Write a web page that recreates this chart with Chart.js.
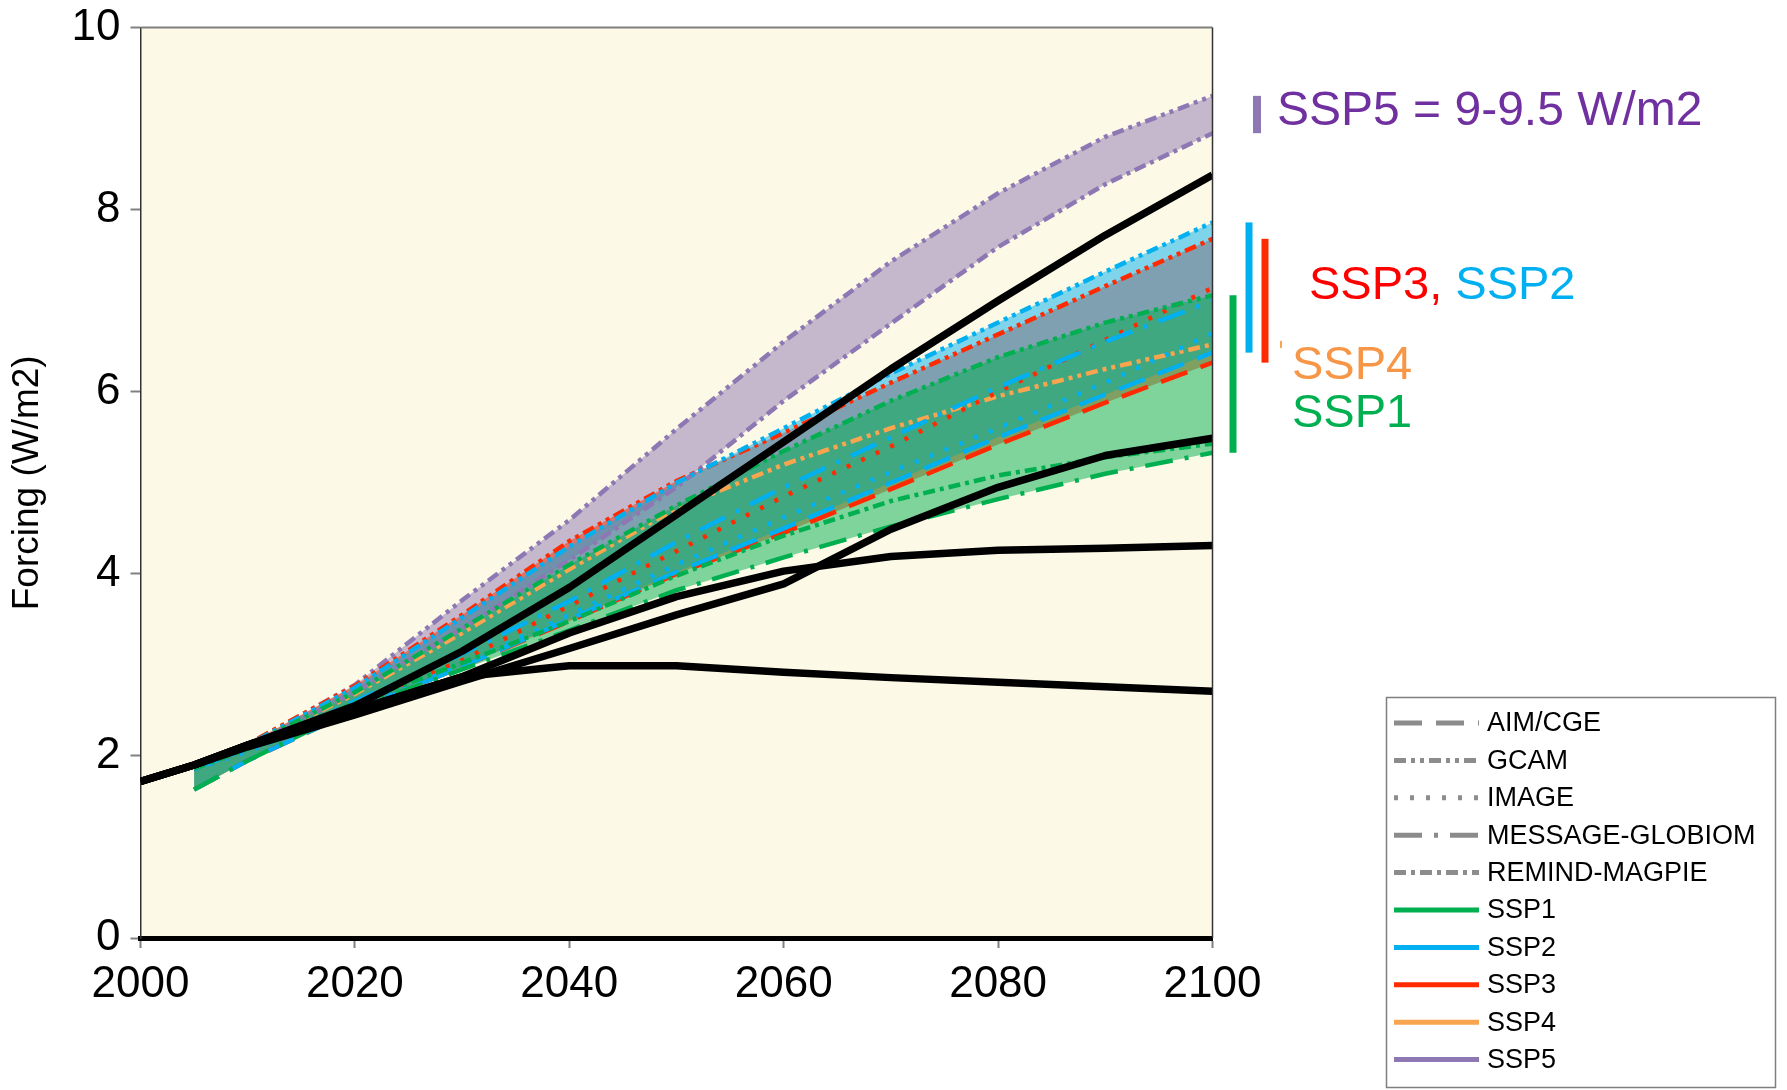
<!DOCTYPE html>
<html>
<head>
<meta charset="utf-8">
<script src="https://cdn.jsdelivr.net/npm/chart.js@4.4.1/dist/chart.umd.min.js"></script>
<style>
  html, body { margin: 0; padding: 0; background: #fff; }
  #wrap { width: 1787px; height: 1090px; position: relative; }
</style>
</head>
<body>
<div id="wrap"><canvas id="chart"></canvas></div>
<script>
// RCP pathways, drawn as thick black lines
const rcpYears = [2000, 2005, 2010, 2020, 2030, 2040, 2050, 2060, 2070, 2080, 2090, 2100];
const rcp85 = [1.72, 1.90, 2.12, 2.55, 3.15, 3.85, 4.65, 5.45, 6.25, 7.00, 7.72, 8.38];
const rcp60 = [1.72, 1.90, 2.10, 2.45, 2.82, 3.18, 3.55, 3.89, 4.49, 4.95, 5.30, 5.49];
const rcp45 = [1.72, 1.90, 2.12, 2.50, 2.87, 3.35, 3.75, 4.03, 4.19, 4.26, 4.28, 4.31];
const rcp26 = [1.72, 1.90, 2.12, 2.50, 2.87, 2.99, 2.99, 2.92, 2.86, 2.81, 2.76, 2.71];

// SSP baseline runs per model
const sspYears = [2005, 2010, 2020, 2030, 2040, 2050, 2060, 2070, 2080, 2090, 2100];
const ssp1_GCAM    = [1.87, 2.11, 2.70, 3.40, 4.10, 4.75, 5.35, 5.90, 6.38, 6.76, 7.06];
const ssp1_REMIND  = [1.86, 2.08, 2.58, 3.02, 3.48, 3.98, 4.42, 4.80, 5.08, 5.28, 5.43];
const ssp1_MESSAGE = [1.63, 1.95, 2.52, 2.95, 3.38, 3.82, 4.18, 4.52, 4.82, 5.10, 5.33];
const ssp2_GCAM    = [1.87, 2.12, 2.75, 3.52, 4.30, 5.00, 5.60, 6.20, 6.76, 7.32, 7.86];
const ssp2_MESSAGE = [1.86, 2.08, 2.60, 3.12, 3.70, 4.35, 4.95, 5.50, 6.05, 6.55, 7.00];
const ssp2_IMAGE   = [1.85, 2.05, 2.52, 3.00, 3.55, 4.10, 4.62, 5.12, 5.60, 6.10, 6.64];
const ssp2_AIM     = [1.63, 1.95, 2.50, 2.98, 3.50, 4.02, 4.50, 5.00, 5.50, 5.97, 6.43];
const ssp3_GCAM    = [1.88, 2.13, 2.77, 3.55, 4.36, 5.02, 5.55, 6.10, 6.63, 7.16, 7.68];
const ssp3_IMAGE   = [1.85, 2.06, 2.55, 3.05, 3.65, 4.25, 4.85, 5.40, 6.00, 6.57, 7.14];
const ssp3_AIM     = [1.63, 1.95, 2.50, 2.98, 3.48, 4.00, 4.45, 4.93, 5.42, 5.88, 6.32];
const ssp4_GCAM    = [1.87, 2.10, 2.68, 3.35, 4.05, 4.72, 5.20, 5.60, 5.95, 6.25, 6.52];
const ssp5_GCAM    = [1.88, 2.12, 2.78, 3.71, 4.59, 5.59, 6.55, 7.43, 8.18, 8.80, 9.25];
const ssp5_REMIND  = [1.86, 2.10, 2.70, 3.40, 4.15, 4.95, 5.90, 6.75, 7.59, 8.28, 8.84];

const modelNames = ['AIM/CGE', 'GCAM', 'IMAGE', 'MESSAGE-GLOBIOM', 'REMIND-MAGPIE'];
const modelDashes = [[28, 14], [12, 5, 4, 5, 4, 5], [4, 12], [28, 12, 4, 12], [12, 5, 4, 5]];
const sspNames = ['SSP1', 'SSP2', 'SSP3', 'SSP4', 'SSP5'];
const sspColors = ['#00B050', '#00B0F0', '#FF2A00', '#F9A44E', '#8E78B4'];
const sspFills = ['rgba(0,176,80,0.5)', 'rgba(0,176,240,0.5)', 'rgba(255,42,0,0.5)', null, 'rgba(142,120,180,0.5)'];
const fillOrder = [7, 8, 9, null, 10]; // higher = painted first (underneath)

// model index: 0 AIM, 1 GCAM, 2 IMAGE, 3 MESSAGE, 4 REMIND
const runs = [
  { ssp: 0, model: 1, values: ssp1_GCAM },
  { ssp: 0, model: 4, values: ssp1_REMIND },
  { ssp: 0, model: 3, values: ssp1_MESSAGE },
  { ssp: 1, model: 1, values: ssp2_GCAM },
  { ssp: 1, model: 3, values: ssp2_MESSAGE },
  { ssp: 1, model: 2, values: ssp2_IMAGE },
  { ssp: 1, model: 0, values: ssp2_AIM },
  { ssp: 2, model: 1, values: ssp3_GCAM },
  { ssp: 2, model: 2, values: ssp3_IMAGE },
  { ssp: 2, model: 0, values: ssp3_AIM },
  { ssp: 3, model: 1, values: ssp4_GCAM },
  { ssp: 4, model: 1, values: ssp5_GCAM },
  { ssp: 4, model: 4, values: ssp5_REMIND },
];

const FONT = '"Liberation Sans", Arial, Helvetica, sans-serif';
const pts = (xs, ys) => xs.map((x, i) => ({ x, y: ys[i] }));

// envelope of each SSP (used for the shaded ranges and the bars on the right)
function envelope(k, fn) {
  const members = runs.filter(r => r.ssp === k);
  return sspYears.map((x, i) => ({ x, y: fn(...members.map(r => r.values[i])) }));
}

const datasets = [];

// black RCP lines on top
[rcp85, rcp60, rcp45, rcp26].forEach(v => {
  datasets.push({
    data: pts(rcpYears, v), borderColor: '#000', borderWidth: 7.5,
    pointRadius: 0, fill: false, tension: 0, order: -1, borderJoinStyle: 'round'
  });
});

runs.forEach(r => {
  datasets.push({
    data: pts(sspYears, r.values), borderColor: sspColors[r.ssp], borderWidth: 4.5,
    borderDash: modelDashes[r.model], borderCapStyle: 'butt',
    pointRadius: 0, fill: false, tension: 0, order: 0
  });
});

[4, 2, 1, 0].forEach(k => {
  datasets.push({
    data: envelope(k, Math.max), borderColor: 'rgba(0,0,0,0)', borderWidth: 0,
    backgroundColor: sspFills[k], fill: '+1', pointRadius: 0, tension: 0, order: fillOrder[k]
  });
  datasets.push({
    data: envelope(k, Math.min), borderColor: 'rgba(0,0,0,0)', borderWidth: 0,
    pointRadius: 0, fill: false, tension: 0, order: fillOrder[k]
  });
});

const overlay = {
  id: 'overlay',
  beforeDraw(chart) {
    const { ctx, chartArea: a } = chart;
    ctx.save();
    ctx.fillStyle = '#FCF9E7';
    ctx.fillRect(a.left, a.top, a.right - a.left, a.bottom - a.top);
    ctx.restore();
  },
  afterDraw(chart) {
    const { ctx, chartArea: a, scales: { y } } = chart;
    ctx.save();

    // frame top and right
    ctx.strokeStyle = '#808080'; ctx.lineWidth = 2;
    ctx.beginPath(); ctx.moveTo(a.left, a.top); ctx.lineTo(a.right, a.top); ctx.stroke();
    ctx.strokeStyle = '#333'; ctx.lineWidth = 1.5;
    ctx.beginPath(); ctx.moveTo(a.right, a.top); ctx.lineTo(a.right, a.bottom); ctx.stroke();

    // 2100 range bars
    const last = sspYears.length - 1;
    const bars = [
      { k: 0, dx: 20.5, w: 7 }, { k: 1, dx: 36.5, w: 7 }, { k: 4, dx: 44.5, w: 8 },
      { k: 2, dx: 52.5, w: 7 }, { k: 3, dx: 68.5, w: 2 }
    ];
    bars.forEach(b => {
      const hi = envelope(b.k, Math.max)[last].y, lo = envelope(b.k, Math.min)[last].y;
      let y1 = y.getPixelForValue(hi), y2 = y.getPixelForValue(lo);
      if (y2 - y1 < 7) { const c = (y1 + y2) / 2; y1 = c - 3.5; y2 = c + 3.5; }
      ctx.fillStyle = sspColors[b.k];
      ctx.fillRect(a.right + b.dx - b.w / 2, y1, b.w, y2 - y1);
    });

    // range labels
    ctx.font = '48px ' + FONT;
    ctx.textBaseline = 'alphabetic';
    ctx.textAlign = 'left';
    ctx.fillStyle = '#7030A0';
    ctx.fillText('SSP5 = 9-9.5 W/m2', 1277, 125);
    ctx.font = '47px ' + FONT;
    ctx.fillStyle = '#FF0000';
    ctx.fillText('SSP3,', 1309, 299);
    ctx.fillStyle = '#00B0F0';
    ctx.fillText('SSP2', 1309 + ctx.measureText('SSP3, ').width, 299);
    ctx.fillStyle = '#F79646';
    ctx.fillText('SSP4', 1292, 379);
    ctx.fillStyle = '#00B050';
    ctx.fillText('SSP1', 1292, 427);

    // legend
    ctx.strokeStyle = '#7F7F7F'; ctx.lineWidth = 1.5;
    ctx.strokeRect(1386.5, 697.5, 389, 390);
    ctx.font = '27px ' + FONT;
    ctx.textBaseline = 'middle';
    const items = modelNames.map((n, i) => ({ label: n, color: '#8C8C8C', dash: modelDashes[i] }))
      .concat(sspNames.map((n, i) => ({ label: n, color: sspColors[i], dash: [] })));
    items.forEach((it, i) => {
      const ly = 723 + i * 37.4;
      ctx.strokeStyle = it.color; ctx.lineWidth = 5; ctx.lineCap = 'butt';
      ctx.setLineDash(it.dash);
      ctx.beginPath(); ctx.moveTo(1394, ly); ctx.lineTo(1479, ly); ctx.stroke();
      ctx.setLineDash([]);
      ctx.fillStyle = '#000';
      ctx.fillText(it.label, 1487, ly + 1);
    });
    ctx.restore();
  }
};

new Chart(document.getElementById('chart'), {
  type: 'line',
  data: { datasets },
  plugins: [overlay],
  options: {
    responsive: true,
    maintainAspectRatio: false,
    devicePixelRatio: 1,
    animation: false,
    events: [],
    layout: { padding: { left: 0, top: 26, right: 574.5, bottom: 0 } },
    plugins: {
      legend: { display: false },
      tooltip: { enabled: false },
      filler: { drawTime: 'beforeDatasetsDraw' }
    },
    scales: {
      x: {
        type: 'linear', min: 2000, max: 2100,
        afterFit: s => { s.height = 152; },
        ticks: { stepSize: 20, color: '#000', font: { family: FONT, size: 44 }, padding: 10,
                 callback: v => String(v) },
        grid: { drawOnChartArea: false, drawTicks: true, tickLength: 10, tickColor: '#808080', tickWidth: 2 },
        border: { display: true, color: '#000', width: 5 }
      },
      y: {
        min: 0, max: 10,
        afterFit: s => { s.width = 140.5; },
        ticks: { stepSize: 2, color: '#000', font: { family: FONT, size: 44, lineHeight: 0.8 }, padding: 10 },
        grid: { drawOnChartArea: false, drawTicks: true, tickLength: 10, tickColor: '#808080', tickWidth: 2 },
        border: { display: true, color: '#333', width: 1.5 },
        title: { display: true, text: 'Forcing (W/m2)', color: '#000',
                 font: { family: FONT, size: 37 }, padding: { top: 6, bottom: 0 } }
      }
    }
  }
});
</script>
</body>
</html>
